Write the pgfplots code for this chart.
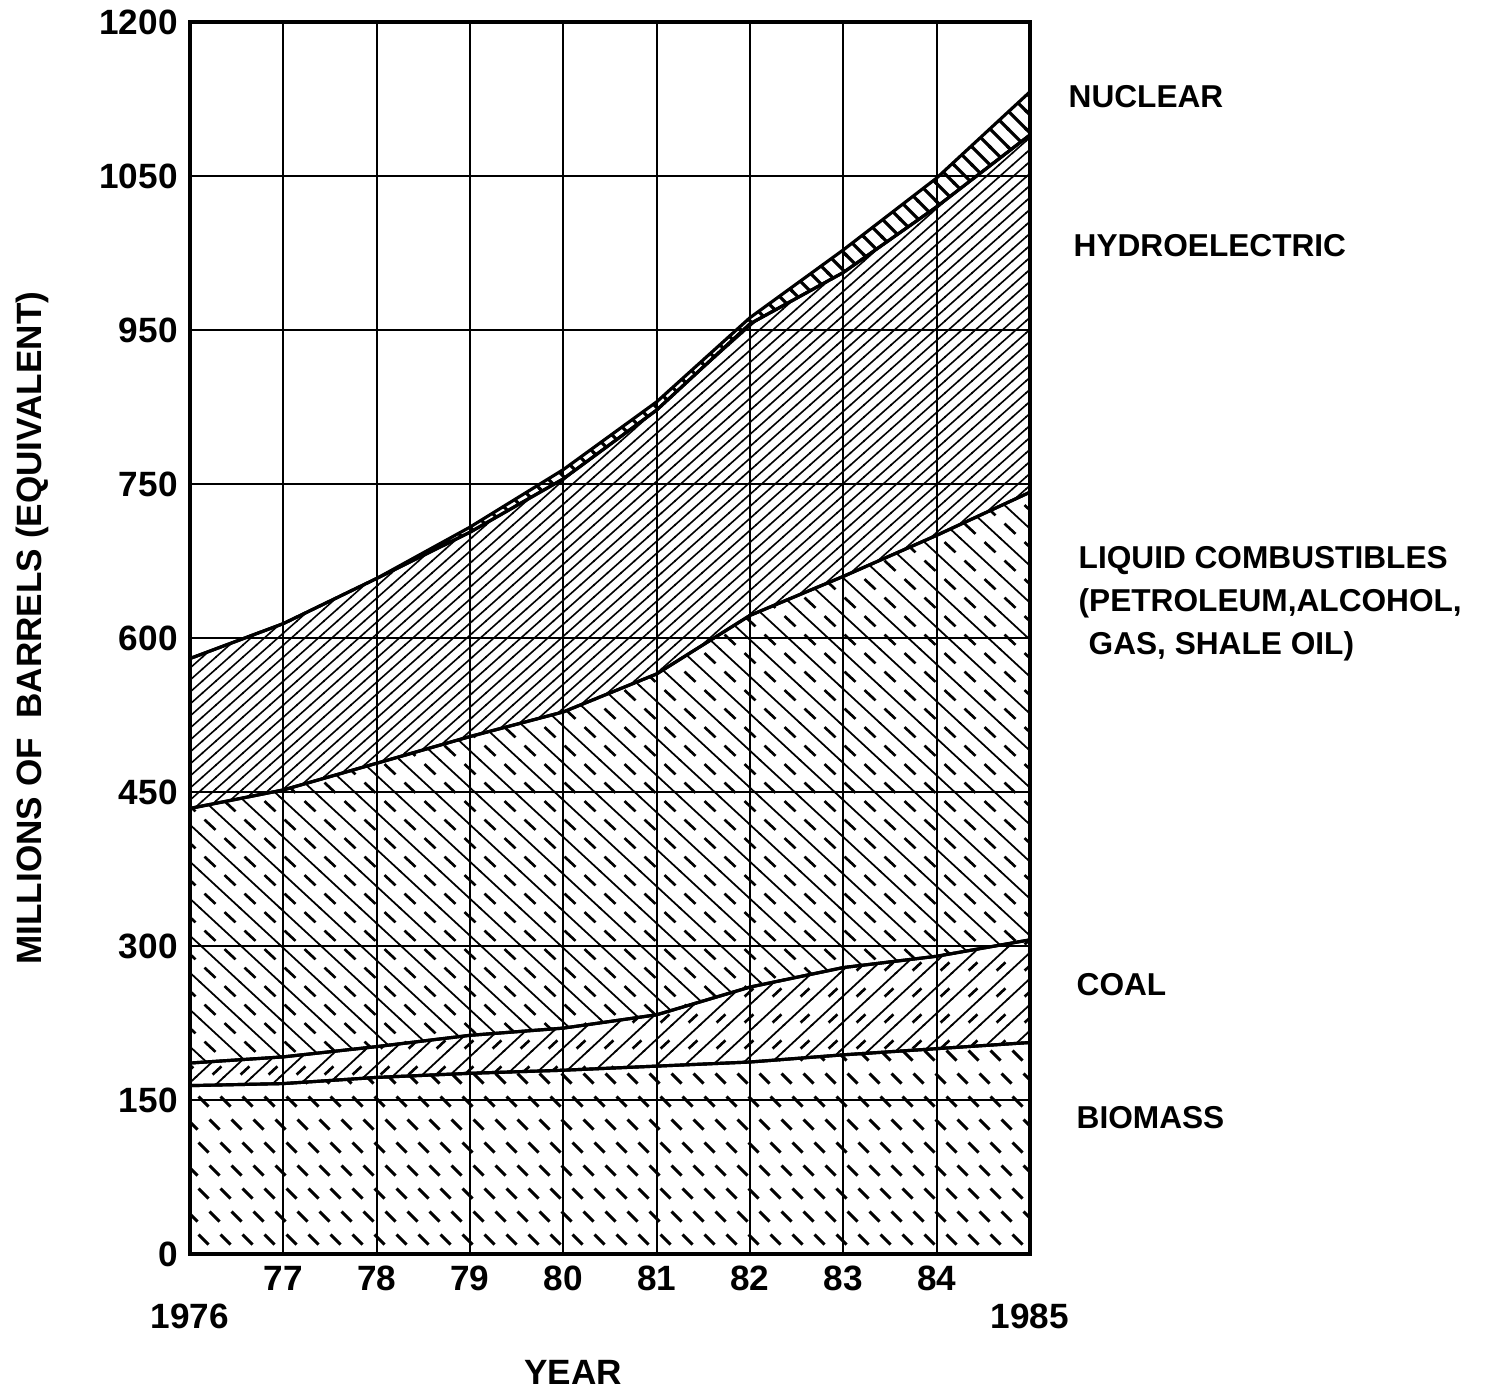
\documentclass[border=0pt]{standalone}
\usepackage{fontspec}
\setmainfont{Liberation Sans}
\usepackage{pgfplots}
\pgfplotsset{compat=1.18}
\usetikzlibrary{patterns}

% hatchings of the five layers
\pgfdeclarepatternformonly{biomass}{\pgfpoint{-0.3mm}{-0.3mm}}{\pgfpoint{2.5mm}{4.9mm}}{\pgfpoint{2.2mm}{4.6mm}}{%
  \pgfsetlinewidth{0.85pt}%
  \pgfpathmoveto{\pgfpoint{0.05mm}{1.65mm}}\pgfpathlineto{\pgfpoint{1.05mm}{0.65mm}}%
  \pgfpathmoveto{\pgfpoint{1.15mm}{3.95mm}}\pgfpathlineto{\pgfpoint{2.15mm}{2.95mm}}%
  \pgfusepath{stroke}}
\pgfdeclarepatternformonly{coal}{\pgfpoint{-0.3mm}{-0.3mm}}{\pgfpoint{3.1mm}{2.9mm}}{\pgfpoint{2.8mm}{2.6mm}}{%
  \pgfsetlinewidth{0.5pt}%
  \pgfpathmoveto{\pgfpoint{-0.1mm}{-0.093mm}}\pgfpathlineto{\pgfpoint{2.9mm}{2.693mm}}%
  \pgfusepath{stroke}%
  \pgfsetlinewidth{0.75pt}%
  \pgfpathmoveto{\pgfpoint{1.66mm}{0.24mm}}\pgfpathlineto{\pgfpoint{2.54mm}{1.06mm}}%
  \pgfusepath{stroke}}
\pgfdeclarepatternformonly{liquid}{\pgfpoint{-0.3mm}{-0.3mm}}{\pgfpoint{4.3mm}{4.0mm}}{\pgfpoint{4.0mm}{3.7mm}}{%
  \pgfsetlinewidth{0.5pt}%
  \pgfpathmoveto{\pgfpoint{-0.1mm}{3.7925mm}}\pgfpathlineto{\pgfpoint{4.1mm}{-0.0925mm}}%
  \pgfusepath{stroke}%
  \pgfsetlinewidth{0.75pt}%
  \pgfpathmoveto{\pgfpoint{0.45mm}{1.435mm}}\pgfpathlineto{\pgfpoint{1.55mm}{0.415mm}}%
  \pgfpathmoveto{\pgfpoint{2.45mm}{3.285mm}}\pgfpathlineto{\pgfpoint{3.55mm}{2.265mm}}%
  \pgfusepath{stroke}}
\pgfdeclarepatternformonly{hydro}{\pgfpoint{-0.2mm}{-0.2mm}}{\pgfpoint{1.55mm}{1.4mm}}{\pgfpoint{1.35mm}{1.2mm}}{%
  \pgfsetlinewidth{0.45pt}%
  \pgfpathmoveto{\pgfpoint{-0.07mm}{-0.062mm}}\pgfpathlineto{\pgfpoint{1.42mm}{1.262mm}}%
  \pgfusepath{stroke}}
\pgfdeclarepatternformonly{nuclear}{\pgfpoint{-0.3mm}{-0.3mm}}{\pgfpoint{2.1mm}{2.1mm}}{\pgfpoint{1.8mm}{1.8mm}}{%
  \pgfsetlinewidth{0.9pt}%
  \pgfpathmoveto{\pgfpoint{-0.1mm}{1.9mm}}\pgfpathlineto{\pgfpoint{1.9mm}{-0.1mm}}%
  \pgfusepath{stroke}}

\tikzset{lab/.style={anchor=west, inner sep=0pt, font=\bfseries\fontsize{9}{12.2}\selectfont}}

\begin{document}
\begin{tikzpicture}[font=\bfseries]
\begin{axis}[
    name=ax,
    scale only axis,
    width=84mm, height=123.2mm,
    xmin=1976, xmax=1985, ymin=0, ymax=1200,
    stack plots=y,
    area style,
    enlargelimits=false,
    clip=false,
    axis on top,
    xtick={1977,...,1984},
    xticklabels={77,78,79,80,81,82,83,84},
    extra x ticks={1976,1985},
    extra x tick labels={1976,1985},
    extra x tick style={grid=none, tick label style={yshift=-3.8mm}},
    ytick={0,150,...,1200},
    yticklabels={0,150,300,450,600,750,950,1050,1200},
    grid=major,
    major grid style={black, line width=0.6pt},
    major tick length=0pt,
    axis line style={line width=1.1pt},
    tick label style={font=\bfseries\fontsize{10}{12}\selectfont},
    /pgf/number format/assume math mode=true,
    ]
% biomass
\addplot[draw=black, line width=0.9pt, pattern=biomass] coordinates {
  (1976,164) (1977,166) (1978,172) (1979,176) (1980,179)
  (1981,183) (1982,187) (1983,194) (1984,200) (1985,206)} \closedcycle;
% coal
\addplot[draw=black, line width=0.9pt, pattern=coal] coordinates {
  (1976,22) (1977,26) (1978,30) (1979,37) (1980,41)
  (1981,50) (1982,73) (1983,85) (1984,90) (1985,100)} \closedcycle;
% liquid combustibles
\addplot[draw=black, line width=0.9pt, pattern=liquid] coordinates {
  (1976,248) (1977,260) (1978,276) (1979,291) (1980,308)
  (1981,332) (1982,362) (1983,381) (1984,410) (1985,436)} \closedcycle;
% hydroelectric
\addplot[draw=black, line width=0.9pt, pattern=hydro] coordinates {
  (1976,146) (1977,162) (1978,180) (1979,199) (1980,227)
  (1981,257) (1982,284) (1983,296) (1984,320) (1985,348)} \closedcycle;
% nuclear
\addplot[draw=black, line width=0.9pt, pattern=nuclear] coordinates {
  (1976,0) (1977,0) (1978,0) (1979,5) (1980,9)
  (1981,8) (1982,6) (1983,22) (1984,28) (1985,42)} \closedcycle;

\node[lab] at ([xshift=3.8mm]axis cs:1985,1127) {NUCLEAR};
\node[lab] at ([xshift=4.3mm]axis cs:1985,982) {HYDROELECTRIC};
\node[lab, align=left] at ([xshift=4.8mm]axis cs:1985,633)
  {LIQUID COMBUSTIBLES\\(PETROLEUM,ALCOHOL,\\\hspace{1mm}GAS, SHALE OIL)};
\node[lab] at ([xshift=4.6mm]axis cs:1985,262) {COAL};
\node[lab] at ([xshift=4.6mm]axis cs:1985,133) {BIOMASS};
\node[font=\bfseries\fontsize{10}{12}\selectfont] at ([yshift=-11.8mm]rel axis cs:0.456,0) {YEAR};
\node[rotate=90, font=\bfseries\fontsize{10}{12}\selectfont] at ([xshift=-15.8mm]rel axis cs:0,0.508)
  {MILLIONS OF\ \ BARRELS (EQUIVALENT)};
\end{axis}
\pgfresetboundingbox
\path ([xshift=-19mm,yshift=-13.5mm]ax.south west) rectangle ([xshift=46.9mm,yshift=2.2mm]ax.north east);
\end{tikzpicture}
\end{document}
